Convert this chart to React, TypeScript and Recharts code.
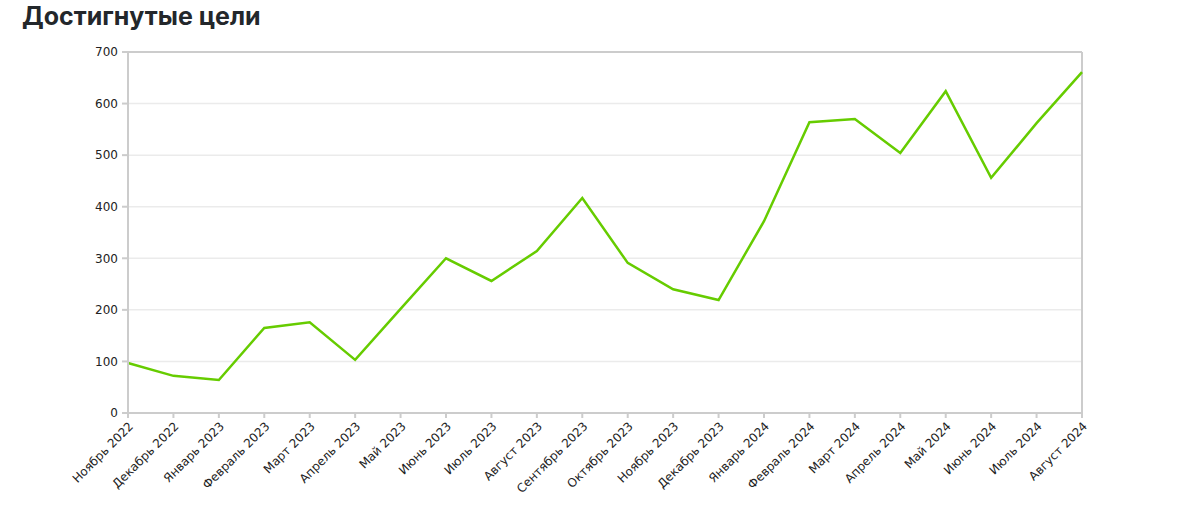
import { LineChart, Line, XAxis, YAxis, CartesianGrid, ReferenceLine } from 'recharts';

const months = [
  'Ноябрь 2022', 'Декабрь 2022', 'Январь 2023', 'Февраль 2023', 'Март 2023', 'Апрель 2023',
  'Май 2023', 'Июнь 2023', 'Июль 2023', 'Август 2023', 'Сентябрь 2023', 'Октябрь 2023',
  'Ноябрь 2023', 'Декабрь 2023', 'Январь 2024', 'Февраль 2024', 'Март 2024', 'Апрель 2024',
  'Май 2024', 'Июнь 2024', 'Июль 2024', 'Август 2024',
];

const goals = [
  97, 72, 64, 165, 176, 103, 202, 300, 256, 314, 417, 291,
  240, 219, 372, 564, 570, 504, 624, 456, 562, 661,
];

const yTicks = [0, 100, 200, 300, 400, 500, 600, 700];

const data = months.map((month, i) => ({ month, goals: goals[i] }));

export default function App() {
  return (
    <div style={{ position: 'relative', width: 1200, height: 510, background: '#fff' }}>
      <style>{`body { margin: 0; }`}</style>
      <div style={{
        position: 'absolute', left: 22, top: 1, fontFamily: 'Inter, sans-serif',
        fontWeight: 700, fontSize: 25, color: '#23272b',
      }}>
        Достигнутые цели
      </div>
      <LineChart width={1200} height={510} data={data} margin={{ top: 52, right: 118, bottom: 0, left: 0 }}>
        <CartesianGrid vertical={false} stroke="#ebebeb" strokeWidth={1.5} />
        <XAxis
          dataKey="month"
          interval={0}
          height={97}
          stroke="#cccccc"
          strokeWidth={2}
          tickSize={5}
          tickMargin={3}
          angle={-45}
          textAnchor="end"
          tick={{ fill: '#222', fontSize: 12, fontFamily: 'DejaVu Sans, sans-serif' }}
        />
        <YAxis
          width={128}
          domain={[0, 700]}
          ticks={yTicks}
          interval={0}
          stroke="#cccccc"
          strokeWidth={2}
          tickSize={6}
          tickMargin={4}
          tick={{ fill: '#222', fontSize: 12, fontFamily: 'DejaVu Sans, sans-serif' }}
        />
        <ReferenceLine y={700} stroke="#cccccc" strokeWidth={2} />
        <ReferenceLine x="Август 2024" stroke="#cccccc" strokeWidth={2} />
        <Line
          type="linear"
          dataKey="goals"
          stroke="#66cc00"
          strokeWidth={2.5}
          dot={false}
          isAnimationActive={false}
        />
      </LineChart>
    </div>
  );
}
